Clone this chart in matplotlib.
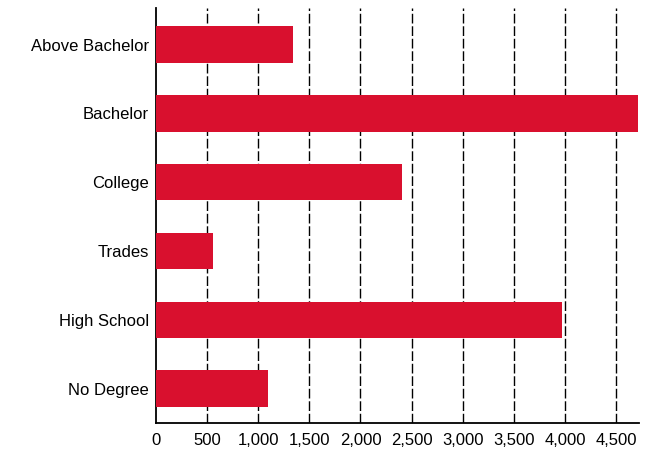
import matplotlib
matplotlib.use("Agg")
import matplotlib.pyplot as plt
from matplotlib.ticker import FuncFormatter

# education levels, top to bottom
levels = ["Above Bachelor", "Bachelor", "College", "Trades", "High School", "No Degree"]
counts = [1340, 4710, 2410, 560, 3975, 1095]
xticks = [0, 500, 1000, 1500, 2000, 2500, 3000, 3500, 4000, 4500]

plt.rcParams['font.family'] = ['Liberation Sans', 'DejaVu Sans']

fig = plt.figure(figsize=(6.62, 4.5), dpi=100)
ax = fig.add_axes([0.2356, 0.06, 0.729, 0.922])

pos = list(range(len(levels)))[::-1]
ax.barh(pos, counts, height=0.53, color='#d9102e', zorder=3)

ax.set_yticks(pos)
ax.set_yticklabels(levels, fontsize=12)
ax.set_xticks(xticks)
ax.xaxis.set_major_formatter(FuncFormatter(lambda v, p: f"{int(v):,}"))
ax.tick_params(axis='x', labelsize=12, length=0, pad=7)
ax.tick_params(axis='y', length=0, pad=5)
ax.set_xlim(0, 4720)
ax.set_ylim(-0.5, 5.53)

# dashed vertical grid
for t in xticks[1:]:
    ax.axvline(t, color='black', linestyle=(0, (7, 2)), linewidth=1.0, zorder=1)

for s in ['top', 'right']:
    ax.spines[s].set_visible(False)
ax.spines['left'].set_linewidth(1.3)
ax.spines['bottom'].set_linewidth(1.3)

fig.savefig("out.png", dpi=100)
